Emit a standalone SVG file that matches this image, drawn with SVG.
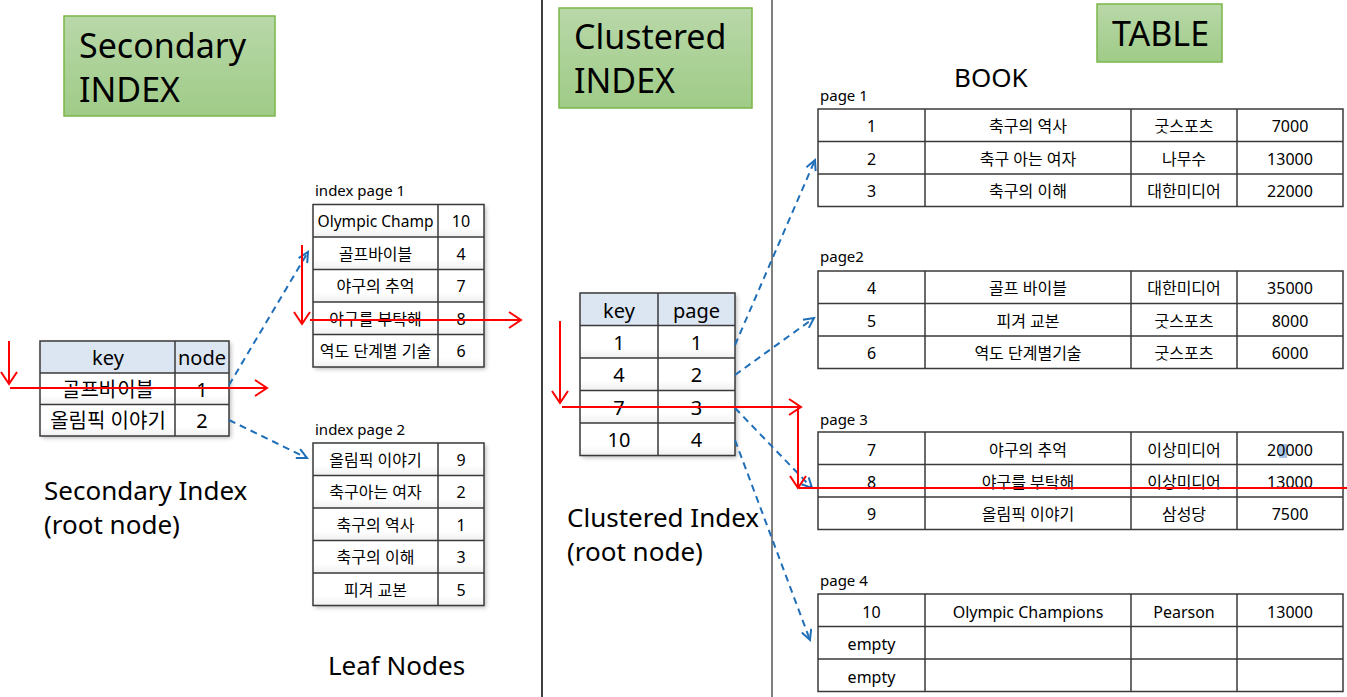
<svg xmlns="http://www.w3.org/2000/svg" width="1347" height="697" viewBox="0 0 1347 697">
<style>
text{font-family:"Noto Sans","Noto Sans CJK KR",sans-serif;fill:#000}
.title{font-size:34px}
.big{font-size:26px}
.lbl{font-size:15px}
.c{font-size:16px;text-anchor:middle;dominant-baseline:central}
.h{font-size:20px;text-anchor:middle;dominant-baseline:central}
.grid{stroke:#3a3a3a;stroke-width:1.5;fill:none}
.tbox{fill:url(#green);stroke:#7ab648;stroke-width:1.5}
.hdr{fill:#dce6f2}
.cell{fill:url(#cellg)}
.blue{stroke:#1f6fb8;stroke-width:2;stroke-dasharray:7 5;fill:none;marker-end:url(#ab)}
.red{stroke:#ff0000;stroke-width:2;fill:none}
.ra{marker-end:url(#ar)}
</style>
<defs>
<linearGradient id="green" x1="0" y1="0" x2="0" y2="1"><stop offset="0" stop-color="#b9d8a9"/><stop offset="1" stop-color="#9fcb87"/></linearGradient>
<linearGradient id="cellg" x1="0" y1="0" x2="0" y2="1"><stop offset="0" stop-color="#ffffff"/><stop offset="0.7" stop-color="#ffffff"/><stop offset="1" stop-color="#f0f0f0"/></linearGradient>
<filter id="sh" x="-10%" y="-10%" width="125%" height="125%"><feDropShadow dx="2" dy="2" stdDeviation="2" flood-color="#000" flood-opacity="0.28"/></filter>
<marker id="ab" markerUnits="userSpaceOnUse" markerWidth="14" markerHeight="14" refX="11" refY="6" orient="auto"><path d="M1,1 L11,6 L1,11" fill="none" stroke="#1f6fb8" stroke-width="2"/></marker>
<marker id="ar" markerUnits="userSpaceOnUse" markerWidth="16" markerHeight="20" refX="13" refY="9" orient="auto"><path d="M1,1 L13,9 L1,17" fill="none" stroke="#ff0000" stroke-width="2"/></marker>
</defs>
<rect width="1347" height="697" fill="#fff"/>

<line x1="542" y1="0" x2="542" y2="697" stroke="#000" stroke-width="1.5"/>
<line x1="772" y1="0" x2="772" y2="697" stroke="#7f7f7f" stroke-width="2"/>

<g id="title-secondary">
<rect class="tbox" x="64" y="16" width="211" height="100"/>
<text class="title" x="79" y="58">Secondary</text>
<text class="title" x="79" y="102">INDEX</text>
</g>

<g id="title-clustered">
<rect class="tbox" x="559" y="8" width="193" height="100"/>
<text class="title" x="574" y="49">Clustered</text>
<text class="title" x="574" y="93">INDEX</text>
</g>

<g id="title-table">
<rect class="tbox" x="1097" y="4" width="125" height="58"/>
<text class="title" x="1112" y="46">TABLE</text>
</g>

<g id="secondary-root">
<g filter="url(#sh)">
<rect class="hdr" x="40" y="341" width="189" height="32"/>
<rect class="cell" x="40" y="373" width="189" height="31.5"/>
<rect class="cell" x="40" y="404.5" width="189" height="31.5"/>
</g>
<path class="grid" d="M40,341H229V436H40Z M40,373H229 M40,404.5H229 M175,341V436"/>
<text class="h" x="108" y="357">key</text><text class="h" x="202" y="357">node</text>
<text class="h" x="108" y="389">골프바이블</text><text class="h" x="202" y="389">1</text>
<text class="h" x="108" y="420">올림픽 이야기</text><text class="h" x="202" y="420">2</text>
</g>
<text class="big" x="44" y="500">Secondary Index</text>
<text class="big" x="44" y="534">(root node)</text>

<g id="index-page-1">
<text class="lbl" x="315" y="196">index page 1</text>
<g filter="url(#sh)">
<rect class="cell" x="313" y="204.5" width="171" height="32.5"/>
<rect class="cell" x="313" y="237" width="171" height="32.5"/>
<rect class="cell" x="313" y="269.5" width="171" height="32.5"/>
<rect class="cell" x="313" y="302" width="171" height="32.5"/>
<rect class="cell" x="313" y="334.5" width="171" height="32.5"/>
</g>
<path class="grid" d="M313,204.5H484V367H313Z M313,237H484 M313,269.5H484 M313,302H484 M313,334.5H484 M438,204.5V367"/>
<text class="c" x="375.5" y="221" textLength="116" lengthAdjust="spacingAndGlyphs">Olympic Champ</text><text class="c" x="461" y="221">10</text>
<text class="c" x="375.5" y="253.5">골프바이블</text><text class="c" x="461" y="253.5">4</text>
<text class="c" x="375.5" y="286">야구의 추억</text><text class="c" x="461" y="286">7</text>
<text class="c" x="375.5" y="318.5">야구를 부탁해</text><text class="c" x="461" y="318.5">8</text>
<text class="c" x="375.5" y="351">역도 단계별 기술</text><text class="c" x="461" y="351">6</text>
</g>

<g id="index-page-2">
<text class="lbl" x="315" y="435">index page 2</text>
<g filter="url(#sh)">
<rect class="cell" x="313" y="443" width="171" height="32.5"/>
<rect class="cell" x="313" y="475.5" width="171" height="32.5"/>
<rect class="cell" x="313" y="508" width="171" height="32.5"/>
<rect class="cell" x="313" y="540.5" width="171" height="32.5"/>
<rect class="cell" x="313" y="573" width="171" height="32.5"/>
</g>
<path class="grid" d="M313,443H484V605.5H313Z M313,475.5H484 M313,508H484 M313,540.5H484 M313,573H484 M438,443V605.5"/>
<text class="c" x="375.5" y="459.5">올림픽 이야기</text><text class="c" x="461" y="459.5">9</text>
<text class="c" x="375.5" y="492">축구아는 여자</text><text class="c" x="461" y="492">2</text>
<text class="c" x="375.5" y="524.5">축구의 역사</text><text class="c" x="461" y="524.5">1</text>
<text class="c" x="375.5" y="557">축구의 이해</text><text class="c" x="461" y="557">3</text>
<text class="c" x="375.5" y="589.5">피겨 교본</text><text class="c" x="461" y="589.5">5</text>
</g>
<text class="big" x="328" y="675">Leaf Nodes</text>

<g id="clustered-root">
<g filter="url(#sh)">
<rect class="hdr" x="580" y="293" width="155" height="32.5"/>
<rect class="cell" x="580" y="325.5" width="155" height="32.5"/>
<rect class="cell" x="580" y="358" width="155" height="32.5"/>
<rect class="cell" x="580" y="390.5" width="155" height="32.5"/>
<rect class="cell" x="580" y="423" width="155" height="32.5"/>
</g>
<path class="grid" d="M580,293H735V455.5H580Z M580,325.5H735 M580,358H735 M580,390.5H735 M580,423H735 M658,293V455.5"/>
<text class="h" x="619" y="310">key</text><text class="h" x="696.5" y="310">page</text>
<text class="h" x="619" y="342">1</text><text class="h" x="696.5" y="342">1</text>
<text class="h" x="619" y="374.5">4</text><text class="h" x="696.5" y="374.5">2</text>
<text class="h" x="619" y="407">7</text><text class="h" x="696.5" y="407">3</text>
<text class="h" x="619" y="439.5">10</text><text class="h" x="696.5" y="439.5">4</text>
</g>
<text class="big" x="567" y="527">Clustered Index</text>
<text class="big" x="567" y="561">(root node)</text>

<text class="big" x="954" y="87">BOOK</text>

<g id="table-page-1">
<text class="lbl" x="820" y="101">page 1</text>
<path class="grid" d="M818,109H1343V206.5H818Z M818,141.5H1343 M818,174H1343 M925,109V206.5 M1131,109V206.5 M1237,109V206.5"/>
<text class="c" x="871.5" y="126">1</text><text class="c" x="1028" y="126">축구의 역사</text><text class="c" x="1184" y="126">굿스포츠</text><text class="c" x="1290" y="126">7000</text>
<text class="c" x="871.5" y="158.5">2</text><text class="c" x="1028" y="158.5">축구 아는 여자</text><text class="c" x="1184" y="158.5">나무수</text><text class="c" x="1290" y="158.5">13000</text>
<text class="c" x="871.5" y="190.5">3</text><text class="c" x="1028" y="190.5">축구의 이해</text><text class="c" x="1184" y="190.5">대한미디어</text><text class="c" x="1290" y="190.5">22000</text>
</g>

<g id="table-page-2">
<text class="lbl" x="820" y="262">page2</text>
<path class="grid" d="M818,271H1343V368.5H818Z M818,303.5H1343 M818,336H1343 M925,271V368.5 M1131,271V368.5 M1237,271V368.5"/>
<text class="c" x="871.5" y="288">4</text><text class="c" x="1028" y="288">골프 바이블</text><text class="c" x="1184" y="288">대한미디어</text><text class="c" x="1290" y="288">35000</text>
<text class="c" x="871.5" y="320.5">5</text><text class="c" x="1028" y="320.5">피겨 교본</text><text class="c" x="1184" y="320.5">굿스포츠</text><text class="c" x="1290" y="320.5">8000</text>
<text class="c" x="871.5" y="352.5">6</text><text class="c" x="1028" y="352.5">역도 단계별기술</text><text class="c" x="1184" y="352.5">굿스포츠</text><text class="c" x="1290" y="352.5">6000</text>
</g>

<g id="table-page-3">
<text class="lbl" x="820" y="425">page 3</text>
<rect x="1279" y="444" width="8" height="14" fill="#a9c7e8"/>
<path class="grid" d="M818,432H1343V529.5H818Z M818,464.5H1343 M818,497H1343 M925,432V529.5 M1131,432V529.5 M1237,432V529.5"/>
<text class="c" x="871.5" y="449.5">7</text><text class="c" x="1028" y="449.5">야구의 추억</text><text class="c" x="1184" y="449.5">이상미디어</text><text class="c" x="1290" y="449.5">20000</text>
<text class="c" x="871.5" y="482">8</text><text class="c" x="1028" y="482">야구를 부탁해</text><text class="c" x="1184" y="482">이상미디어</text><text class="c" x="1290" y="482">13000</text>
<text class="c" x="871.5" y="514">9</text><text class="c" x="1028" y="514">올림픽 이야기</text><text class="c" x="1184" y="514">삼성당</text><text class="c" x="1290" y="514">7500</text>
</g>

<g id="table-page-4">
<text class="lbl" x="820" y="586">page 4</text>
<path class="grid" d="M818,594H1343V691.5H818Z M818,626.5H1343 M818,659H1343 M925,594V691.5 M1131,594V691.5 M1237,594V691.5"/>
<text class="c" x="871.5" y="611.5">10</text><text class="c" x="1028" y="611.5">Olympic Champions</text><text class="c" x="1184" y="611.5">Pearson</text><text class="c" x="1290" y="611.5">13000</text>
<text class="c" x="871.5" y="644">empty</text>
<text class="c" x="871.5" y="676.5">empty</text>
</g>

<g id="connectors">
<line class="blue" x1="229" y1="385" x2="308" y2="252"/>
<line class="blue" x1="229" y1="420" x2="307" y2="458"/>
<line class="blue" x1="735" y1="345" x2="815" y2="160"/>
<line class="blue" x1="735" y1="375" x2="814" y2="318"/>
<line class="blue" x1="735" y1="408" x2="812" y2="488"/>
<line class="blue" x1="735" y1="440" x2="810" y2="640"/>
<line class="red ra" x1="9" y1="341" x2="9" y2="384"/>
<line class="red ra" x1="10" y1="388" x2="267" y2="388"/>
<line class="red ra" x1="302" y1="245" x2="302" y2="324"/>
<line class="red ra" x1="310" y1="320" x2="521" y2="320"/>
<line class="red ra" x1="560" y1="321" x2="560" y2="403"/>
<line class="red ra" x1="562" y1="407" x2="801" y2="407"/>
<line class="red ra" x1="798" y1="407" x2="798" y2="488"/>
<line class="red" x1="799" y1="488" x2="1347" y2="488"/>
</g>
</svg>
